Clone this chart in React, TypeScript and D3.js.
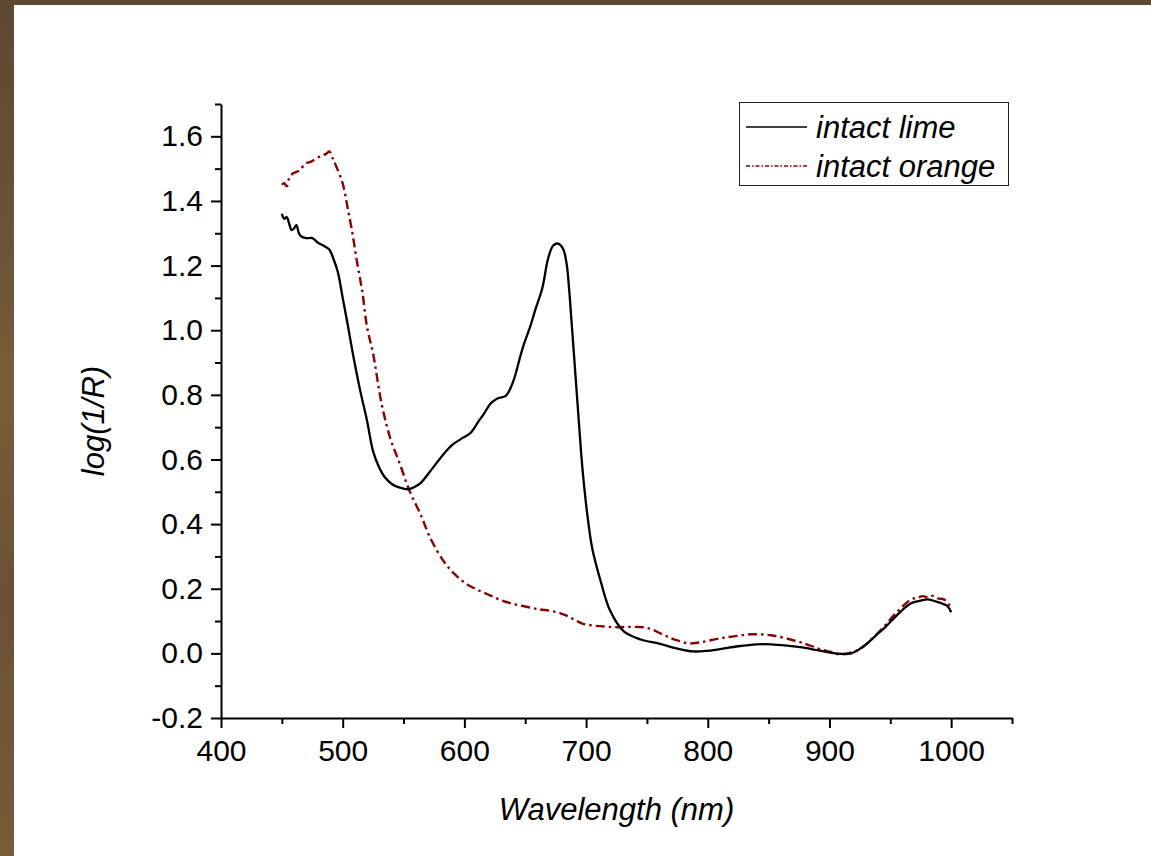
import React, { useEffect, useRef } from "react";
import * as d3 from "d3";

// spectra (wavelength in nm, log(1/R))
const limeWl = [
  450, 452, 454, 456, 458, 460, 462, 464, 466, 470, 475, 480, 485, 489, 492, 496, 500, 504, 508,
  514, 520, 525, 530, 534, 540, 545, 550, 554, 559, 564, 572, 583, 590, 597, 605, 612, 616, 622,
  628, 634, 640, 646, 649, 654, 658, 664, 669, 673, 677, 681, 684, 686, 688, 690, 693, 696, 698,
  701, 705, 712, 720, 731, 745, 760, 775, 788, 800, 810, 825, 840, 852, 865, 876, 890, 905, 918,
  928, 938, 945, 956, 967, 975, 981, 988, 992, 997, 1000,
];
const limeVal = [
  1.36, 1.345, 1.35, 1.33, 1.31, 1.315, 1.325, 1.3, 1.29, 1.285, 1.285, 1.27, 1.26, 1.25, 1.225,
  1.18, 1.1, 1.02, 0.935, 0.82, 0.72, 0.625, 0.575, 0.548, 0.525, 0.515, 0.51, 0.508, 0.515, 0.527,
  0.564, 0.617, 0.645, 0.663, 0.682, 0.72, 0.741, 0.775, 0.79, 0.797, 0.84, 0.92, 0.958, 1.01,
  1.06, 1.13, 1.225, 1.262, 1.268, 1.253, 1.206, 1.13, 1.03, 0.927, 0.772, 0.617, 0.533, 0.43,
  0.326, 0.223, 0.13, 0.068, 0.043, 0.03, 0.015, 0.006, 0.008, 0.013, 0.022, 0.028, 0.028, 0.024,
  0.019, 0.01, 0.0, 0.0, 0.022, 0.055, 0.078, 0.12, 0.155, 0.163, 0.167, 0.16, 0.155, 0.146, 0.127,
];

const orangeWl = [
  450, 452, 454, 456, 459, 462, 465, 469, 473, 476, 480, 483, 486, 489, 492, 495, 500, 504, 508,
  512, 516, 520, 525, 532, 539, 547, 555, 564, 572, 583, 592, 602, 610, 619, 628, 638, 650, 662,
  670, 679, 685, 690, 697, 704, 715, 726, 737, 747, 754, 761, 768, 775, 784, 795, 808, 820, 835,
  852, 868, 880, 890, 900, 909, 918, 926, 935, 945, 956, 967, 972, 977, 981, 985, 989, 994, 998,
  1001,
];
const orangeVal = [
  1.45, 1.455, 1.445, 1.47, 1.485, 1.49, 1.495, 1.515, 1.52, 1.526, 1.535, 1.541, 1.545, 1.553,
  1.53, 1.504, 1.454, 1.38, 1.3, 1.206, 1.122, 1.01, 0.927, 0.772, 0.667, 0.586, 0.502, 0.43,
  0.357, 0.285, 0.245, 0.214, 0.198, 0.183, 0.168, 0.155, 0.145, 0.136, 0.132, 0.124, 0.115,
  0.105, 0.092, 0.087, 0.083, 0.081, 0.082, 0.081, 0.074, 0.062, 0.05, 0.04, 0.031, 0.035, 0.045,
  0.052, 0.059, 0.056, 0.043, 0.03, 0.016, 0.005, -0.003, 0.003, 0.016, 0.045, 0.084, 0.13, 0.167,
  0.172, 0.177, 0.173, 0.178, 0.17, 0.167, 0.152, 0.14,
];

const xTicks = [400, 500, 600, 700, 800, 900, 1000];
const xMinor = [450, 550, 650, 750, 850, 950, 1050];
const yTicks = [-0.2, 0, 0.2, 0.4, 0.6, 0.8, 1.0, 1.2, 1.4, 1.6];
const yMinor = [-0.1, 0.1, 0.3, 0.5, 0.7, 0.9, 1.1, 1.3, 1.5, 1.7];
const legendLabels = ["intact lime", "intact orange"];

const W = 1151;
const H = 856;
const FONT = "'Liberation Sans', Arial, sans-serif";
const RED = "#8b0000";

const App = () => {
  const svgRef = useRef<SVGSVGElement>(null);

  useEffect(() => {
    const svg = d3.select(svgRef.current);
    svg.selectAll("*").remove();

    // slide background: brown frame on the left and top
    const defs = svg.append("defs");
    const grad = defs.append("linearGradient").attr("id", "wood").attr("x1", 0).attr("y1", 0).attr("x2", 0).attr("y2", 1);
    [["0%", "#5d4931"], ["30%", "#6c5437"], ["45%", "#7c5c37"], ["70%", "#6a5135"], ["100%", "#7a5a37"]].forEach(([o, c]) =>
      grad.append("stop").attr("offset", o).attr("stop-color", c)
    );
    svg.append("rect").attr("width", W).attr("height", H).attr("fill", "url(#wood)");
    svg.append("rect").attr("x", 14).attr("y", 5).attr("width", W - 14).attr("height", H - 5).attr("fill", "#fff");

    const x = d3.scaleLinear().domain([400, 1050]).range([221, 1012]);
    const y = d3.scaleLinear().domain([-0.2, 1.7]).range([718, 104]);

    // X axis
    const gx = svg.append("g").attr("transform", `translate(0,${y(-0.2)})`);
    gx.call(d3.axisBottom(x).tickValues(xTicks).tickSize(10).tickSizeOuter(0).tickPadding(12).tickFormat((d) => String(d)));
    gx.append("g").call(d3.axisBottom(x).tickValues(xMinor).tickSize(6).tickSizeOuter(0).tickFormat(() => ""))
      .select(".domain").remove();

    // Y axis
    const gy = svg.append("g").attr("transform", `translate(${x(400)},0)`);
    gy.call(d3.axisLeft(y).tickValues(yTicks).tickSize(10).tickSizeOuter(0).tickPadding(8).tickFormat((d) => (+d).toFixed(1)));
    gy.append("g").call(d3.axisLeft(y).tickValues(yMinor).tickSize(6).tickSizeOuter(0).tickFormat(() => ""))
      .select(".domain").remove();

    svg.selectAll(".domain, .tick line").attr("stroke", "#000").attr("stroke-width", 2);
    svg.selectAll(".tick text").attr("font-family", FONT).attr("font-size", 30).attr("fill", "#000");

    // axis titles
    svg.append("text")
      .attr("x", (x(400) + x(1050)) / 2)
      .attr("y", 820)
      .attr("text-anchor", "middle")
      .attr("font-family", FONT)
      .attr("font-size", 31)
      .attr("font-style", "italic")
      .text("Wavelength (nm)");
    svg.append("text")
      .attr("transform", `translate(104,${(y(-0.2) + y(1.7)) / 2 + 10}) rotate(-90)`)
      .attr("text-anchor", "middle")
      .attr("font-family", FONT)
      .attr("font-size", 31)
      .attr("font-style", "italic")
      .text("log(1/R)");

    // curves
    const line = d3.line<[number, number]>()
      .x((d) => x(d[0]))
      .y((d) => y(d[1]))
      .curve(d3.curveCatmullRom.alpha(0.5));

    svg.append("path")
      .attr("d", line(orangeWl.map((w, i) => [w, orangeVal[i]] as [number, number])))
      .attr("fill", "none")
      .attr("stroke", RED)
      .attr("stroke-width", 2.4)
      .attr("stroke-dasharray", "9,4,2.5,4");

    svg.append("path")
      .attr("d", line(limeWl.map((w, i) => [w, limeVal[i]] as [number, number])))
      .attr("fill", "none")
      .attr("stroke", "#000")
      .attr("stroke-width", 2.3);

    // legend
    const lg = svg.append("g");
    lg.append("rect")
      .attr("x", 739.5).attr("y", 102.5).attr("width", 269).attr("height", 83)
      .attr("fill", "#fff").attr("stroke", "#222").attr("stroke-width", 1);
    const styles = [
      { stroke: "#000", dash: null },
      { stroke: RED, dash: "4,2,1.5,2" },
    ];
    legendLabels.forEach((lab, i) => {
      const ly = 127 + i * 39;
      lg.append("line")
        .attr("x1", 746).attr("x2", 807).attr("y1", ly).attr("y2", ly)
        .attr("stroke", styles[i].stroke).attr("stroke-width", 1.6)
        .attr("stroke-dasharray", styles[i].dash);
      lg.append("text")
        .attr("x", 816).attr("y", ly + 11)
        .attr("font-family", FONT).attr("font-size", 31).attr("font-style", "italic")
        .text(lab);
    });
  }, []);

  return <svg ref={svgRef} width={W} height={H} style={{ position: "absolute", left: 0, top: 0, display: "block" }} />;
};

export default App;
